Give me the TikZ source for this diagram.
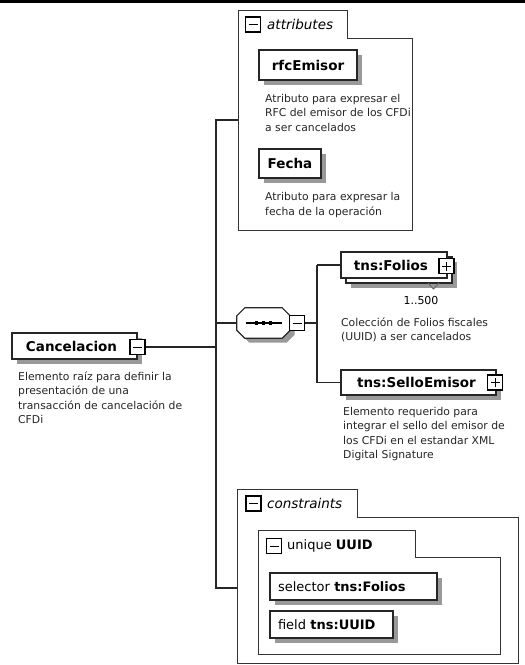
\documentclass[tikz,border=0pt]{standalone}
\usepackage{fontspec}
\setmainfont{DejaVu Sans}
\usetikzlibrary{shadows}
\begin{document}
\begin{tikzpicture}[x=1pt,y=-1pt,
  ln/.style={draw=black!85, line width=1.1pt},
  shad/.style={drop shadow={shadow xshift=4.5pt, shadow yshift=-4.5pt, fill=black!40, opacity=1}},
  elemplain/.style={draw=black!85, line width=1.3pt, fill=white, inner sep=0pt, font=\fontsize{13.5}{16}\selectfont\bfseries},
  elem/.style={elemplain, shad},
  grp/.style={draw=black!80, line width=0.9pt, fill=white},
  iconbox/.style={draw=black, line width=1.6pt, fill=white, minimum width=15pt, minimum height=15pt, inner sep=0pt},
  minusicon/.style={iconbox, path picture={\draw[line width=1pt] ([xshift=3pt]path picture bounding box.west) -- ([xshift=-3pt]path picture bounding box.east);}},
  plusicon/.style={iconbox, path picture={\draw[line width=1pt] ([xshift=3pt]path picture bounding box.west) -- ([xshift=-3pt]path picture bounding box.east);
     \draw[line width=1pt] ([yshift=-3pt]path picture bounding box.north) -- ([yshift=3pt]path picture bounding box.south);}},
  desc/.style={anchor=north west, inner sep=0pt, align=left, text=black!85, font=\fontsize{10.8}{14.5}\selectfont},
  hdr/.style={anchor=west, inner sep=0pt, font=\fontsize{13.5}{16}\selectfont\itshape},
]
\useasboundingbox (0,0) rectangle (525,665);
\fill[white] (0,0) rectangle (525,665);
\draw[line width=2.5pt, black] (0,1.25) -- (525,1.25);

% attributes group
\draw[grp] (238,10) -- (347,10) -- (347,38) -- (412,38) -- (412,230) -- (238,230) -- cycle;
\coordinate (attrL) at (238,120);
\node[minusicon] (attrI) at (253,24.5) {};
\node[hdr] (attrT) at (267,24.5) {attributes};
\node[elem, minimum width=98pt, minimum height=30pt] (rfc) at (308,65) {rfcEmisor};
\node[desc] (rfcD) at (265,92) {\rule{0pt}{10pt}Atributo para expresar el\\RFC del emisor de los CFDi\\a ser cancelados};
\node[elem, minimum width=62pt, minimum height=29pt] (fecha) at (290,163.5) {Fecha};
\node[desc] (fechaD) at (265,190.5) {\rule{0pt}{10pt}Atributo para expresar la\\fecha de la operación};

% root
\node[elem, minimum width=125pt, minimum height=26pt] (root) at (74.5,346) {Cancelacion\hspace*{6pt}};
\node[minusicon] (rootI) at (137.5,347) {};
\node[desc] (rootD) at (18,370) {\rule{0pt}{10pt}Elemento raíz para definir la\\presentación de una\\transacción de cancelación de\\CFDi};

% bus
\coordinate (busA) at (216,120);
\coordinate (busS) at (216,323);
\coordinate (busR) at (216,347);
\coordinate (busC) at (216,588);
\coordinate (consL) at (237,588);
\draw[ln] (attrL) -- (busA) -- (busC) -- (consL);
\draw[ln] (rootI.east) -- (busR);

% sequence
\node[inner sep=0pt, minimum width=53pt, minimum height=30pt] (seq) at (263.5,323) {};
\draw[ln, line width=1.2pt, fill=white, shad]
  ([xshift=8pt]seq.north west) -- ([xshift=-8pt]seq.north east) -- ([yshift=-8pt]seq.north east)
  -- ([yshift=8pt]seq.south east) -- ([xshift=-8pt]seq.south east) -- ([xshift=8pt]seq.south west)
  -- ([yshift=8pt]seq.south west) -- ([yshift=-8pt]seq.north west) -- cycle;
\draw[line width=1.2pt] ([xshift=-18pt]seq.center) -- ([xshift=18pt]seq.center);
\foreach \dx in {-8.7,-1.7,5.3}
  \fill ([xshift=\dx pt, yshift=1.8pt]seq.center) rectangle ++(3.4,3.6);
\draw[ln] (busS) -- (seq.west);
\node[minusicon] (seqI) at (297,323) {};
\coordinate (chA) at (317,323);
\coordinate (chT) at (317,265);
\coordinate (chB) at (317,382.5);
\draw[ln] (seqI.east) -- (chA);
\draw[ln] (chT) -- (chB);

% Folios
\node[elem, minimum width=106pt, minimum height=26pt] (foliosB) at (399,270) {};
\node[elemplain, minimum width=106pt, minimum height=26pt] (folios) at (394,265) {tns:Folios\hspace*{6pt}};
\node[plusicon] (foliosI) at (446.5,266) {};
\draw[black!60, line width=0.9pt] (428,283) -- (433.5,289) -- (439,283);
\node[inner sep=0pt, font=\fontsize{11}{13}\selectfont] (occ) at (421,300) {1..500};
\node[desc] (foliosD) at (341,316) {\rule{0pt}{10pt}Colección de Folios fiscales\\(UUID) a ser cancelados};
\draw[ln] (chT) -- (folios.west);

% SelloEmisor
\node[elem, minimum width=155pt, minimum height=25pt] (sello) at (418.5,382.5) {tns:SelloEmisor\hspace*{4pt}};
\node[plusicon] (selloI) at (495,382.5) {};
\node[desc] (selloD) at (343,405) {\rule{0pt}{10pt}Elemento requerido para\\integrar el sello del emisor de\\los CFDi en el estandar XML\\Digital Signature};
\draw[ln] (chB) -- (sello.west);

% constraints
\draw[grp] (237,489) -- (357,489) -- (357,517) -- (518,517) -- (518,663) -- (237,663) -- cycle;
\node[minusicon] (consI) at (253.5,503.5) {};
\node[hdr] (consT) at (267,503.5) {constraints};
\draw[grp] (258,530) -- (415,530) -- (415,557) -- (500,557) -- (500,654) -- (258,654) -- cycle;
\node[minusicon] (uniqI) at (274,546) {};
\node[anchor=west, inner sep=0pt, font=\fontsize{13}{16}\selectfont] (uniqT) at (287,546) {unique \textbf{UUID}};
\node[elem, font=\fontsize{13}{16}\selectfont, minimum height=27pt, text width=151pt, align=left, inner xsep=8pt] (sel) at (353.5,586.5) {selector \textbf{tns:Folios}};
\node[elem, font=\fontsize{13}{16}\selectfont, minimum height=27pt, text width=107pt, align=left, inner xsep=8pt] (fld) at (331.5,624.5) {field \textbf{tns:UUID}};
\end{tikzpicture}
\end{document}
